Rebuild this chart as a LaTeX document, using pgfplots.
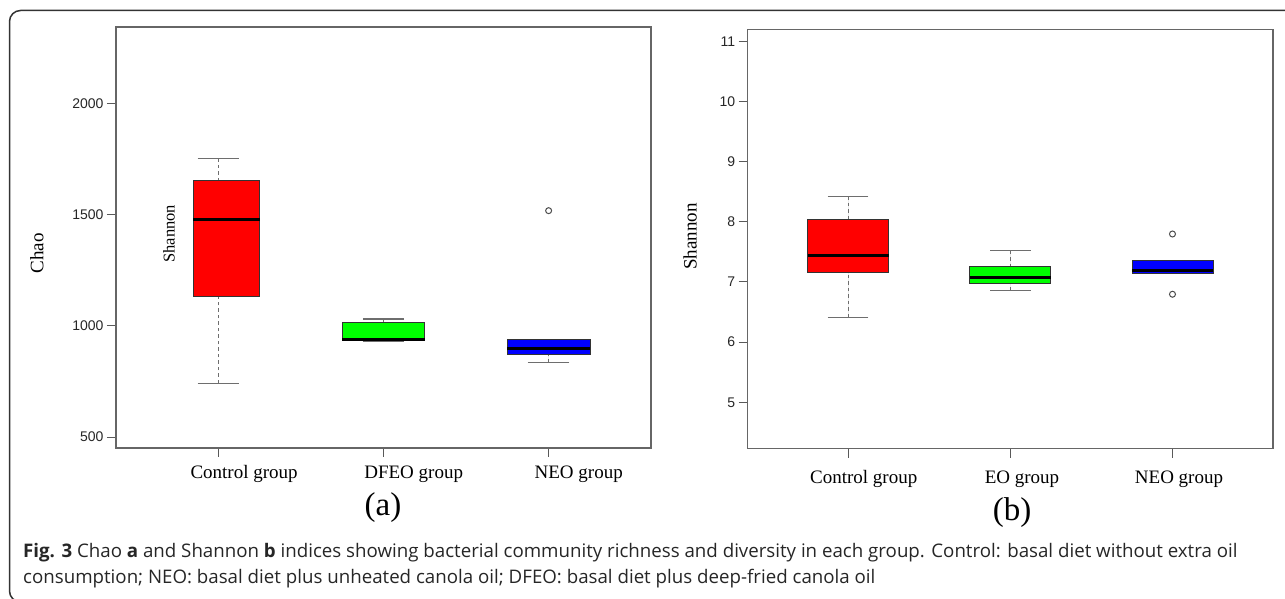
\documentclass[border=0pt]{standalone}
\usepackage{pgfplots}
\pgfplotsset{compat=1.18}
\usepgfplotslibrary{statistics}
\usepackage{fontspec}
\setmainfont{Liberation Serif}
\setsansfont{Liberation Sans}
\newfontfamily\capfont{Open Sans}
\definecolor{rred}{HTML}{FF0000}
\definecolor{rgreen}{HTML}{00FF00}
\definecolor{rblue}{HTML}{0000FF}
\definecolor{wgray}{HTML}{6E6E6E}
\tikzset{whiskline/.style={draw=wgray, color=wgray, line width=1.3pt}}
\pgfplotsset{
  rwhisk/.style={
    boxplot/draw/lower whisker/.code={%
      \draw[whiskline,dash pattern=on 3.5pt off 3pt] (boxplot box cs:\pgfplotsboxplotvalue{lower whisker},0.5) -- (boxplot box cs:\pgfplotsboxplotvalue{lower quartile},0.5);
      \draw[whiskline] (boxplot whisker cs:\pgfplotsboxplotvalue{lower whisker},0) -- (boxplot whisker cs:\pgfplotsboxplotvalue{lower whisker},1);
    },
    boxplot/draw/upper whisker/.code={%
      \draw[whiskline,dash pattern=on 3.5pt off 3pt] (boxplot box cs:\pgfplotsboxplotvalue{upper whisker},0.5) -- (boxplot box cs:\pgfplotsboxplotvalue{upper quartile},0.5);
      \draw[whiskline] (boxplot whisker cs:\pgfplotsboxplotvalue{upper whisker},0) -- (boxplot whisker cs:\pgfplotsboxplotvalue{upper whisker},1);
    },
  },
  nowhisk/.style={
    boxplot/draw/lower whisker/.code={},
    boxplot/draw/upper whisker/.code={},
  },
  nobox/.style={
    boxplot/draw/box/.code={},
    boxplot/draw/median/.code={},
  },
  rbox/.style={
    rwhisk,
    draw=black!80, line width=0.8pt,
    boxplot/box extend=0.5,
    boxplot/whisker extend=0.25,
    boxplot/every median/.style={draw=black, line width=3pt},
    mark=o, mark size=3pt,
    mark options={draw=black!70, line width=1pt, fill=none, solid},
  },
  raxis/.style={
    scale only axis,
    xmin=0.38, xmax=3.62,
    xtick={1,2,3}, xticklabels={},
    tick pos=left,
    tick align=outside,
    major tick length=9pt,
    tick style={black!65, line width=1pt},
    axis line style={black!60, line width=1.2pt},
    boxplot/draw direction=y,
    /pgf/number format/assume math mode=true,
    /pgf/number format/1000 sep={},
    yticklabel style={font=\sffamily\fontsize{14}{14}\selectfont, text=black!85},
  },
}
\begin{document}
\begin{tikzpicture}[x=1pt,y=1pt]
\useasboundingbox (0,0) rectangle (1285,599);
\clip (0,0) rectangle (1285,599);
\draw[black!80, line width=1.5pt, rounded corners=11pt] (9.5,-3) rectangle (1300,588.5);

% ---------- panel (a) ----------
\begin{axis}[raxis,
  at={(116pt,151pt)}, anchor=south west,
  width=535pt, height=421pt,
  ymin=450.5, ymax=2346,
  ytick={500,1000,1500,2000},
]
% Control: whiskers centred on tick, box slightly shifted and narrower
\addplot[rbox, nobox, boxplot prepared={draw position=1,
  lower whisker=741, lower quartile=1132, median=1478,
  upper quartile=1655, upper whisker=1754}] coordinates {};
\addplot[rbox, nowhisk, fill=rred, boxplot prepared={draw position=1.049,
  box extend=0.403,
  lower whisker=741, lower quartile=1132, median=1478,
  upper quartile=1655, upper whisker=1754}] coordinates {};
% DFEO
\addplot[rbox, fill=rgreen, boxplot prepared={draw position=2,
  lower whisker=930, lower quartile=933, median=940,
  upper quartile=1017, upper whisker=1031}] coordinates {};
% NEO
\addplot[rbox, fill=rblue, boxplot prepared={draw position=3,
  lower whisker=834, lower quartile=874, median=897,
  upper quartile=938, upper whisker=940}]
  table[row sep=\\, y index=0] {y\\ 1519\\};
\end{axis}

% ---------- panel (b) ----------
\begin{axis}[raxis,
  at={(747.7pt,150.4pt)}, anchor=south west,
  width=525.3pt, height=419.2pt,
  ymin=4.23, ymax=11.196,
  ytick={5,6,7,8,9,10,11},
]
\addplot[rbox, fill=rred, boxplot prepared={draw position=1,
  lower whisker=6.414, lower quartile=7.156, median=7.432,
  upper quartile=8.043, upper whisker=8.42}] coordinates {};
\addplot[rbox, fill=rgreen, boxplot prepared={draw position=2,
  lower whisker=6.855, lower quartile=6.98, median=7.07,
  upper quartile=7.262, upper whisker=7.52}] coordinates {};
\addplot[rbox, fill=rblue, boxplot prepared={draw position=3,
  lower whisker=7.136, lower quartile=7.136, median=7.197,
  upper quartile=7.355, upper whisker=7.355}]
  table[row sep=\\, y index=0] {y\\ 7.796\\ 6.795\\};
\end{axis}

% ---------- labels ----------
\begin{scope}[every node/.style={inner sep=0pt, font=\fontsize{19}{19}\selectfont}]
\node[anchor=base] at (244.1,120.6) {Control group};
\node[anchor=base] at (413.7,120.6) {DFEO group};
\node[anchor=base] at (578.7,120.6) {NEO group};
\node[anchor=base] at (863.7,115.6) {Control group};
\node[anchor=base] at (1022,115.6) {EO group};
\node[anchor=base] at (1179,115.6) {NEO group};
\node[rotate=90] at (37,345.5) {Chao};
\node[rotate=90] at (690,362.4) {Shannon};
\node[rotate=90, font=\fontsize{16.5}{16.5}\selectfont] at (169,365.3) {Shannon};
\node[anchor=base, font=\fontsize{33}{33}\selectfont] at (383,83.4) {(a)};
\node[anchor=base, font=\fontsize{33}{33}\selectfont] at (1012,78.4) {(b)};
\end{scope}

% ---------- caption ----------
\begin{scope}[every node/.style={inner sep=0pt, anchor=base west, text=black!85, font=\capfont\fontsize{18.7}{18.7}\selectfont}]
\node at (23,41) {\textbf{Fig. 3} Chao \textbf{a} and Shannon \textbf{b} indices showing bacterial community richness and diversity in each group. Control: basal diet without extra oil};
\node at (23,15) {consumption; NEO: basal diet plus unheated canola oil; DFEO: basal diet plus deep-fried canola oil};
\end{scope}
\end{tikzpicture}
\end{document}
